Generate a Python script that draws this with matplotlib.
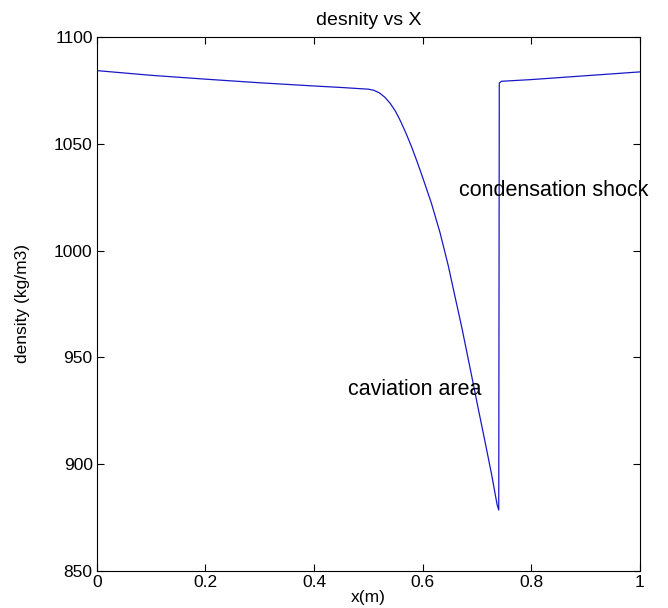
import numpy as np
from matplotlib import pyplot as plt

plt.rcParams['font.family'] = ['Liberation Sans', 'DejaVu Sans']

# density along x
x = [0.0, 0.10, 0.20, 0.30, 0.40, 0.45, 0.50, 0.510, 0.520, 0.530, 0.540, 0.550,
     0.560, 0.570, 0.580, 0.590, 0.600, 0.616, 0.632, 0.647, 0.659, 0.672, 0.690,
     0.702, 0.715, 0.727, 0.737, 0.740, 0.741, 0.745, 0.80, 0.90, 1.0]
rho = [1084.3, 1082.1, 1080.3, 1078.6, 1077.1, 1076.4, 1075.6, 1075.1, 1073.9, 1071.9,
       1069.0, 1065.2, 1060.2, 1054.5, 1048.3, 1041.4, 1034.2, 1022.2, 1008.3, 993.0,
       979.0, 964.0, 941.5, 926.3, 910.2, 895.0, 881.0, 878.5, 1078.5, 1079.3,
       1080.1, 1081.9, 1083.7]

fig = plt.figure(figsize=(6.68, 6.08), dpi=100)
ax = fig.add_axes([0.145, 0.061, 0.813, 0.878])
ax.plot(x, rho, '-', color='#1818c8', lw=0.9)

ax.set_xlim(0, 1)
ax.set_ylim(850, 1100)
ax.set_xticks([0, 0.2, 0.4, 0.6, 0.8, 1])
ax.set_xticklabels(['0', '0.2', '0.4', '0.6', '0.8', '1'])
ax.set_yticks([850, 900, 950, 1000, 1050, 1100])
ax.tick_params(direction='in', top=True, right=True, length=5, labelsize=12.5, pad=3)
for s in ax.spines.values():
    s.set_linewidth(0.8)

ax.set_title('desnity vs X', fontsize=14, pad=9)
ax.set_xlabel('x(m)', fontsize=12.5, labelpad=0)
ax.set_ylabel('density (kg/m3)', fontsize=12.5)
ax.yaxis.set_label_coords(-0.123, 0.5)

ax.text(0.462, 935, 'caviation area', fontsize=15.5, va='center')
ax.text(0.667, 1028, 'condensation shock', fontsize=15.5, va='center')

plt.savefig('out.png', dpi=100)
